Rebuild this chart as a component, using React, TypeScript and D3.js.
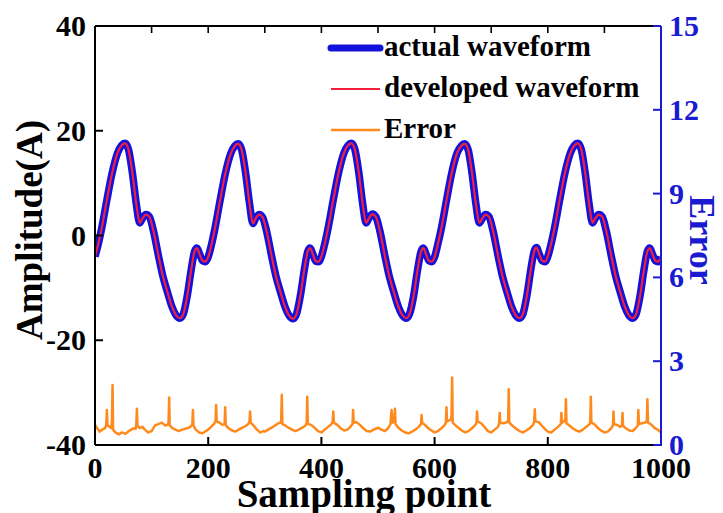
import React from "react";
import * as d3 from "d3";

// ---------- data ----------
const waveX = [
  0, 5, 12, 21, 30, 40, 47, 53, 59, 66, 73, 79, 84, 90, 96, 103, 112, 120, 128, 136, 143, 150, 156, 163, 170, 176, 180, 185, 190, 195,
  200, 205, 212, 221, 230, 240, 247, 253, 259, 266, 273, 279, 284, 290, 296, 303, 312, 320, 328, 336, 343, 350, 356, 363, 370, 376, 380, 385, 390, 395,
  400, 405, 412, 421, 430, 440, 447, 453, 459, 466, 473, 479, 484, 490, 496, 503, 512, 520, 528, 536, 543, 550, 556, 563, 570, 576, 580, 585, 590, 595,
  600, 605, 612, 621, 630, 640, 647, 653, 659, 666, 673, 679, 684, 690, 696, 703, 712, 720, 728, 736, 743, 750, 756, 763, 770, 776, 780, 785, 790, 795,
  800, 805, 812, 821, 830, 840, 847, 853, 859, 866, 873, 879, 884, 890, 896, 903, 912, 920, 928, 936, 943, 950, 956, 963, 970, 976, 980, 985, 990, 995,
  1000,
];
const actualY = [
  -4.0, -2.0, 1.5, 6.8, 11.8, 15.8, 17.2, 17.6, 16.5, 12.0, 6.0, 2.4, 3.3, 4.0, 3.6, 1.0, -3.8, -7.8, -10.8, -13.6, -15.2, -15.8, -15.0, -11.5, -6.5, -3.0, -2.4, -3.6, -4.8, -5.0,
  -4.1, -2.1, 1.4, 6.7, 11.7, 15.7, 17.1, 17.5, 16.4, 12.0, 6.1, 2.3, 3.3, 4.0, 3.5, 0.9, -3.9, -7.9, -10.9, -13.7, -15.3, -15.9, -15.0, -11.4, -6.4, -3.0, -2.4, -3.6, -4.9, -5.0,
  -4.0, -2.0, 1.5, 6.8, 11.8, 15.8, 17.2, 17.6, 16.5, 12.1, 6.0, 2.4, 3.3, 4.1, 3.6, 1.0, -3.8, -7.8, -10.8, -13.6, -15.2, -15.8, -14.9, -11.5, -6.5, -3.1, -2.4, -3.6, -4.8, -5.0,
  -4.1, -2.0, 1.4, 6.7, 11.8, 15.8, 17.1, 17.5, 16.5, 12.0, 6.0, 2.4, 3.2, 4.0, 3.6, 1.0, -3.8, -7.8, -10.8, -13.6, -15.2, -15.8, -15.0, -11.5, -6.5, -3.0, -2.3, -3.6, -4.8, -5.0,
  -4.0, -2.0, 1.5, 6.8, 11.8, 15.8, 17.2, 17.6, 16.5, 12.0, 6.0, 2.4, 3.3, 4.0, 3.6, 1.0, -3.8, -7.8, -10.8, -13.6, -15.2, -15.8, -15.0, -11.5, -6.5, -3.0, -2.4, -3.6, -4.8, -5.0,
  -4.1,
];
const developedY = actualY;

const errX = [
  0, 4, 8, 13, 18, 20, 21, 22, 26, 29, 30, 31, 32, 36, 42, 48, 54, 60, 64, 68, 72, 73, 74, 75, 79, 84, 88, 94,
  100, 106, 112, 118, 124, 128, 130, 131, 132, 137, 142, 148, 154, 160, 166, 171, 172, 173, 174, 178, 184, 190, 196,
  200, 205, 210, 213, 214, 215, 220, 225, 229, 230, 231, 236, 242, 248, 254, 260, 266, 271, 273, 274, 275, 280, 286, 292, 298,
  300, 306, 312, 318, 324, 328, 329, 330, 331, 336, 342, 348, 354, 360, 366, 372, 374, 375, 376, 382, 388, 394,
  400, 406, 412, 418, 420, 421, 422, 428, 434, 440, 446, 451, 455, 456, 457, 462, 468, 474, 480, 486, 492, 498,
  500, 506, 512, 518, 522, 524, 526, 529, 530, 531, 536, 542, 548, 554, 560, 566, 572, 576, 577, 578, 584, 590, 596,
  600, 606, 612, 618, 620, 621, 622, 626, 629, 630, 631, 632, 636, 642, 648, 654, 660, 666, 672, 674, 675, 676, 682, 688, 694,
  700, 706, 712, 714, 715, 716, 722, 728, 730, 731, 732, 738, 744, 750, 756, 762, 768, 774, 776, 777, 778, 784, 790, 796,
  800, 806, 812, 818, 823, 824, 825, 829, 831, 832, 833, 838, 844, 850, 856, 862, 868, 874, 875, 876, 877, 882, 888, 894,
  900, 906, 912, 915, 916, 917, 922, 928, 931, 932, 933, 938, 944, 950, 955, 959, 960, 961, 966, 971, 975, 976, 977, 982, 988, 994, 1000,
];
const errY = [
  0.72, 0.6, 0.48, 0.55, 0.6, 0.75, 1.25, 0.7, 0.65, 0.6, 0.9, 2.15, 0.55, 0.45, 0.38, 0.45, 0.4, 0.5, 0.55, 0.6, 0.58, 0.75, 1.3, 0.7, 0.6, 0.65, 0.55, 0.45,
  0.5, 0.7, 0.75, 0.8, 0.7, 0.72, 0.8, 1.7, 0.7, 0.6, 0.55, 0.5, 0.55, 0.58, 0.62, 0.7, 0.75, 1.25, 0.7, 0.55, 0.45, 0.42, 0.5,
  0.55, 0.65, 0.75, 0.85, 1.43, 0.85, 0.8, 0.72, 0.75, 1.35, 0.7, 0.6, 0.52, 0.48, 0.55, 0.62, 0.68, 0.75, 0.85, 1.2, 0.8, 0.7, 0.55, 0.45, 0.5,
  0.48, 0.55, 0.62, 0.7, 0.78, 0.8, 0.9, 1.8, 0.75, 0.7, 0.62, 0.55, 0.5, 0.55, 0.62, 0.7, 0.8, 1.73, 0.75, 0.72, 0.62, 0.5,
  0.45, 0.55, 0.65, 0.75, 0.85, 1.2, 0.8, 0.72, 0.6, 0.52, 0.55, 0.65, 0.75, 1.25, 0.8, 0.82, 0.72, 0.6, 0.5, 0.48, 0.55, 0.6,
  0.62, 0.55, 0.5, 0.6, 0.75, 1.25, 0.8, 0.85, 1.3, 0.75, 0.62, 0.52, 0.45, 0.42, 0.48, 0.55, 0.65, 0.75, 1.07, 0.8, 0.7, 0.58, 0.5,
  0.45, 0.5, 0.6, 0.72, 0.8, 1.35, 0.85, 0.88, 0.9, 1.1, 2.42, 0.8, 0.72, 0.62, 0.52, 0.45, 0.5, 0.6, 0.72, 0.8, 1.2, 0.85, 0.78, 0.65, 0.5,
  0.45, 0.55, 0.65, 0.75, 1.15, 0.8, 0.78, 0.82, 0.9, 2.0, 0.8, 0.68, 0.58, 0.5, 0.45, 0.52, 0.6, 0.72, 0.85, 1.28, 0.85, 0.82, 0.68, 0.55,
  0.48, 0.45, 0.55, 0.65, 0.75, 1.15, 0.8, 0.85, 0.9, 1.64, 0.78, 0.7, 0.6, 0.52, 0.48, 0.55, 0.65, 0.75, 0.85, 1.73, 0.8, 0.75, 0.62, 0.52,
  0.45, 0.48, 0.6, 0.7, 1.2, 0.75, 0.72, 0.65, 0.7, 1.15, 0.68, 0.6, 0.52, 0.5, 0.6, 0.7, 1.25, 0.75, 0.78, 0.8, 0.85, 1.64, 0.8, 0.75, 0.62, 0.55, 0.45,
];

const xTicks = [0, 200, 400, 600, 800, 1000];
const xTopTicks = [0, 100, 200, 300, 400, 500, 600, 700, 800, 900, 1000];
const yLeftTicks = [-40, -20, 0, 20, 40];
const yRightTicks = [0, 3, 6, 9, 12, 15];

const legendLabels = ["actual waveform", "developed waveform", "Error"];

// ---------- styles ----------
const W = 723;
const H = 513;
const L = 95, R = 661, T = 26, B = 445;
const FONT = '"Liberation Serif", "Times New Roman", serif';
const BLUE_AX = "#1a1ad0";
const BLUE = "#1212dc";
const RED = "#f2203c";
const ORANGE = "#ff8a1c";

export default function App() {
  const x = d3.scaleLinear().domain([0, 1000]).range([L, R]);
  const yL = d3.scaleLinear().domain([-40, 40]).range([B, T]);
  const yR = d3.scaleLinear().domain([0, 15]).range([B, T]);

  const waveLine = d3
    .line<number>()
    .x((_, i) => x(waveX[i]))
    .y((d) => yL(d))
    .curve(d3.curveMonotoneX);
  const errLine = d3
    .line<number>()
    .x((_, i) => x(errX[i]))
    .y((d) => yR(d));

  const legendColors = [BLUE, RED, ORANGE];
  const legendWidths = [7, 2, 2.5];
  const legendRowsY = [48, 89, 130];

  return (
    <svg
      width={W}
      height={H}
      style={{ position: "absolute", left: 0, top: 0, background: "#fff" }}
      fontFamily={FONT}
    >
      <defs>
        <clipPath id="plot">
          <rect x={L} y={T} width={R - L} height={B - T} />
        </clipPath>
      </defs>
      <rect x={0} y={0} width={W} height={H} fill="#fff" />

      <g clipPath="url(#plot)" fill="none">
        <path d={waveLine(actualY) || ""} stroke={BLUE} strokeWidth={7.5} strokeLinejoin="round" />
        <path d={waveLine(developedY) || ""} stroke={RED} strokeWidth={2.2} strokeLinejoin="round" />
        <path d={errLine(errY) || ""} stroke={ORANGE} strokeWidth={2.5} strokeLinejoin="round" />
      </g>

      {/* axes frame */}
      <line x1={L} y1={T} x2={L} y2={B} stroke="#000" strokeWidth={2} />
      <line x1={L} y1={B} x2={R} y2={B} stroke="#000" strokeWidth={2} />
      <line x1={L} y1={T} x2={R} y2={T} stroke="#000" strokeWidth={2} />
      <line x1={R} y1={T} x2={R} y2={B + 1} stroke={BLUE_AX} strokeWidth={2} />

      {/* bottom ticks */}
      {xTicks.map((v) => (
        <g key={"xb" + v}>
          {v > 0 && v < 1000 && (
            <line x1={x(v)} x2={x(v)} y1={B} y2={B - 8} stroke="#000" strokeWidth={2} />
          )}
          <text x={x(v)} y={478} textAnchor="middle" fontSize={30} fontWeight="bold" fill="#000">
            {v}
          </text>
        </g>
      ))}
      {/* top ticks */}
      {xTopTicks
        .filter((v) => v > 0 && v < 1000)
        .map((v) => (
          <line key={"xt" + v} x1={x(v)} x2={x(v)} y1={T} y2={T + 7} stroke="#000" strokeWidth={1.6} />
        ))}
      {/* left ticks */}
      {yLeftTicks.map((v) => (
        <g key={"yl" + v}>
          {v > -40 && v < 40 && (
            <line x1={L} x2={L + 8} y1={yL(v)} y2={yL(v)} stroke="#000" strokeWidth={2} />
          )}
          <text x={86} y={yL(v) + 10} textAnchor="end" fontSize={30} fontWeight="bold" fill="#000">
            {v}
          </text>
        </g>
      ))}
      {/* right ticks */}
      {yRightTicks.map((v) => (
        <g key={"yr" + v}>
          <line x1={R} x2={R - 8} y1={yR(v)} y2={yR(v)} stroke={BLUE_AX} strokeWidth={2} />
          <text x={669} y={yR(v) + 10} textAnchor="start" fontSize={30} fontWeight="bold" fill={BLUE_AX}>
            {v}
          </text>
        </g>
      ))}

      {/* axis titles */}
      <text x={364} y={507} textAnchor="middle" fontSize={39} fontWeight="bold" fill="#000">
        Sampling point
      </text>
      <text
        transform={`translate(42, 230) rotate(-90)`}
        textAnchor="middle"
        fontSize={37}
        fontWeight="bold"
        fill="#000"
      >
        Amplitude(A)
      </text>
      <text
        transform={`translate(690, 240) rotate(90)`}
        textAnchor="middle"
        fontSize={36}
        fontWeight="bold"
        fill={BLUE_AX}
      >
        Error
      </text>

      {/* legend */}
      {legendLabels.map((lab, i) => (
        <g key={lab}>
          <line
            x1={331}
            x2={380}
            y1={legendRowsY[i]}
            y2={legendRowsY[i]}
            stroke={legendColors[i]}
            strokeWidth={legendWidths[i]}
            strokeLinecap={i === 0 ? "round" : "butt"}
          />
          <text x={384} y={legendRowsY[i] + 8} fontSize={29} fontWeight="bold" fill="#000">
            {lab}
          </text>
        </g>
      ))}
    </svg>
  );
}
